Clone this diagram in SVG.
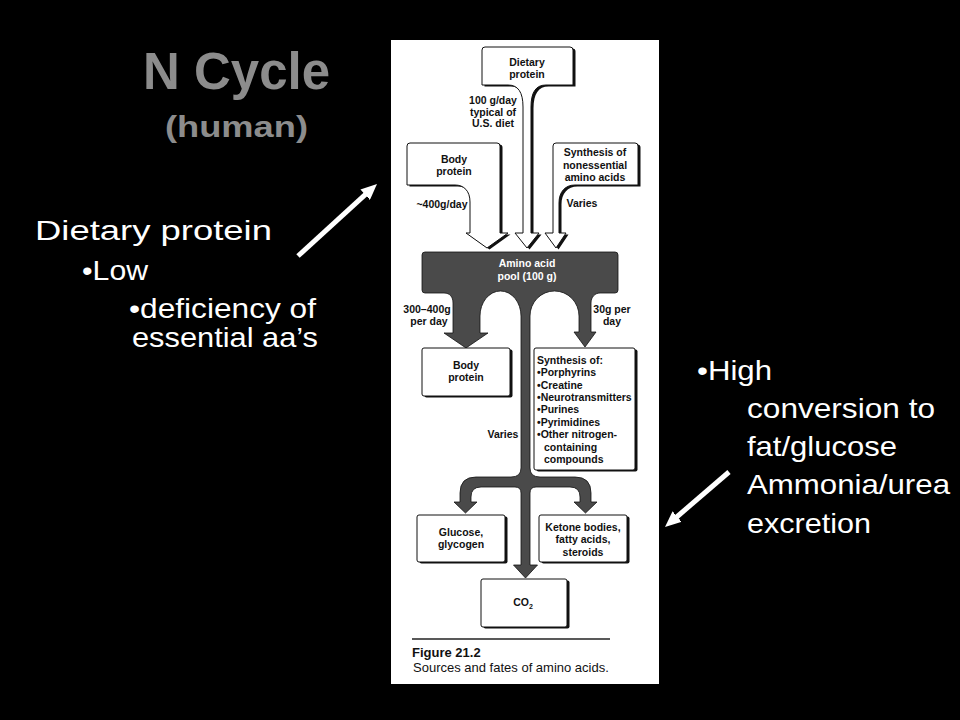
<svg xmlns="http://www.w3.org/2000/svg" width="960" height="720" viewBox="0 0 960 720">
<defs>
<style>
.fig{font-family:"Liberation Sans",Arial,sans-serif;font-weight:bold;font-size:10.5px;fill:#111;text-anchor:middle}
.figl{text-anchor:start}
.wt{fill:#fff}
.slide{font-family:"Liberation Sans",Arial,sans-serif;font-size:28px;fill:#fff}
.title{font-family:"Liberation Sans",Arial,sans-serif;font-weight:bold;fill:#8c8c8c}
.box{fill:#fff;stroke:#111;stroke-width:1}
.shadow{fill:#111}
.pool{fill:#4a4a4a;stroke:#111;stroke-width:0.8}
.warrow{stroke:#fff;stroke-width:5;fill:none;marker-end:url(#wh)}
</style>
<marker id="wh" markerUnits="userSpaceOnUse" markerWidth="16" markerHeight="14" refX="6" refY="7" orient="auto">
<path d="M0,0 L16,7 L0,14 z" fill="#fff"/>
</marker>
</defs>
<rect width="960" height="720" fill="#000"/>

<g id="title">
<text class="title" x="143" y="89" font-size="51" textLength="187" lengthAdjust="spacingAndGlyphs">N Cycle</text>
<text class="title" x="165" y="137" font-size="30" textLength="143" lengthAdjust="spacingAndGlyphs">(human)</text>
</g>

<g id="left-notes">
<text class="slide" x="35" y="240" font-size="30" textLength="237" lengthAdjust="spacingAndGlyphs">Dietary protein</text>
<text class="slide" x="82" y="280" textLength="66" lengthAdjust="spacingAndGlyphs">•Low</text>
<text class="slide" x="129" y="318" textLength="187" lengthAdjust="spacingAndGlyphs">•deficiency of</text>
<text class="slide" x="132" y="347" textLength="186" lengthAdjust="spacingAndGlyphs">essential aa’s</text>
</g>

<g id="right-notes">
<text class="slide" x="697" y="380" textLength="75" lengthAdjust="spacingAndGlyphs">•High</text>
<text class="slide" x="747" y="418" textLength="188" lengthAdjust="spacingAndGlyphs">conversion to</text>
<text class="slide" x="747" y="456" textLength="150" lengthAdjust="spacingAndGlyphs">fat/glucose</text>
<text class="slide" x="747" y="494" textLength="203" lengthAdjust="spacingAndGlyphs">Ammonia/urea</text>
<text class="slide" x="747" y="533" textLength="124" lengthAdjust="spacingAndGlyphs">excretion</text>
</g>

<g id="figure-panel">
<rect x="391" y="40" width="268" height="644" fill="#fff"/>
</g>

<g id="dietary-protein">
<path class="shadow" transform="translate(2.5,1.5)" d="M485,47 H570 Q573,47 573,50 V85 H546 C536,85 531,92 531,107 V233 H539 L527,248 L515,233 H523 V107 C523,92 518,85 508,85 H482 V50 Q482,47 485,47 Z"/>
<path class="box" d="M485,47 H570 Q573,47 573,50 V85 H546 C536,85 531,92 531,107 V233 H539 L527,248 L515,233 H523 V107 C523,92 518,85 508,85 H482 V50 Q482,47 485,47 Z"/>
<text class="fig" x="527" y="66">Dietary</text>
<text class="fig" x="527" y="78">protein</text>
<text class="fig" x="493" y="104">100 g/day</text>
<text class="fig" x="493" y="115.5">typical of</text>
<text class="fig" x="493" y="127">U.S. diet</text>
</g>

<g id="body-protein-source">
<path class="shadow" transform="translate(2.5,1.5)" d="M410,143 H497 Q500,143 500,146 V233 H508 L487,248 L466,233 H470 V202 C470,191 464,185 455,185 H407 V146 Q407,143 410,143 Z"/>
<path class="box" d="M410,143 H497 Q500,143 500,146 V233 H508 L487,248 L466,233 H470 V202 C470,191 464,185 455,185 H407 V146 Q407,143 410,143 Z"/>
<text class="fig" x="454" y="163">Body</text>
<text class="fig" x="454" y="175">protein</text>
<text class="fig" x="442" y="208">~400g/day</text>
</g>

<g id="synthesis-nonessential">
<path class="shadow" transform="translate(2.5,1.5)" d="M556,143 H635 Q638,143 638,146 V185 H575 C565,185 559,192 559,203 V233 H566 L556,248 L545,233 H553 V146 Q553,143 556,143 Z"/>
<path class="box" d="M556,143 H635 Q638,143 638,146 V185 H575 C565,185 559,192 559,203 V233 H566 L556,248 L545,233 H553 V146 Q553,143 556,143 Z"/>
<text class="fig" x="595" y="156">Synthesis of</text>
<text class="fig" x="595" y="168.5">nonessential</text>
<text class="fig" x="595" y="181">amino acids</text>
<text class="fig" x="582" y="207">Varies</text>
</g>

<g id="amino-acid-pool">
<path class="pool" d="M425,252 H615 Q618,252 618,255 V290 Q618,293 615,293 H600 C595,293 591,297 591,303 V332 H596 L585,347 L574,332 H579 V316 A24.5,25 0 0 0 530,316 V468 Q530,477 540,477 H575 Q591,477 591,493 V502 H597 L585.5,513 L574,502 H580 V497 Q580,487 570,487 H536 Q530,487 530,493 V565 H537.5 L525.5,578 L513.5,565 H521 V493 Q521,487 515,487 H481 Q471,487 471,497 V502 H477 L465.5,513 L454,502 H460 V493 Q460,477 476,477 H511 Q521,477 521,468 V316 A20.5,25 0 0 0 480,316 V333 H488 L466,348 L444,333 H453 V303 C453,297 450,293 444,293 H425 Q422,293 422,290 V255 Q422,252 425,252 Z"/>
<text class="fig wt" x="527" y="267">Amino acid</text>
<text class="fig wt" x="527" y="280">pool (100 g)</text>
<text class="fig" x="427" y="313">300–400g</text>
<text class="fig" x="429" y="325">per day</text>
<text class="fig" x="612" y="313">30g per</text>
<text class="fig" x="612" y="325">day</text>
<text class="fig" x="503" y="438">Varies</text>
</g>

<g id="body-protein-fate">
<rect class="shadow" x="424.5" y="349.5" width="88" height="48" rx="2"/>
<rect class="box" x="422" y="348" width="88" height="48" rx="2"/>
<text class="fig" x="466" y="369">Body</text>
<text class="fig" x="466" y="381">protein</text>
</g>

<g id="synthesis-of">
<rect class="shadow" x="536.5" y="349.5" width="101" height="122" rx="2"/>
<rect class="box" x="534" y="348" width="101" height="122" rx="2"/>
<text class="fig figl" x="537" y="364">Synthesis of:</text>
<text class="fig figl" x="537" y="376.3">•Porphyrins</text>
<text class="fig figl" x="537" y="388.7">•Creatine</text>
<text class="fig figl" x="537" y="401">•Neurotransmitters</text>
<text class="fig figl" x="537" y="413.4">•Purines</text>
<text class="fig figl" x="537" y="425.8">•Pyrimidines</text>
<text class="fig figl" x="537" y="438.1">•Other nitrogen-</text>
<text class="fig figl" x="544" y="450.5">containing</text>
<text class="fig figl" x="544" y="462.8">compounds</text>
</g>

<g id="glucose">
<rect class="shadow" x="419.5" y="516.5" width="88" height="47" rx="2"/>
<rect class="box" x="417" y="515" width="88" height="47" rx="2"/>
<text class="fig" x="461" y="535.5">Glucose,</text>
<text class="fig" x="461" y="547.5">glycogen</text>
</g>

<g id="ketone">
<rect class="shadow" x="541.5" y="516.5" width="88" height="47" rx="2"/>
<rect class="box" x="539" y="515" width="88" height="47" rx="2"/>
<text class="fig" x="583" y="530.5">Ketone bodies,</text>
<text class="fig" x="583" y="543">fatty acids,</text>
<text class="fig" x="583" y="555.5">steroids</text>
</g>

<g id="co2">
<rect class="shadow" x="483.5" y="580.5" width="86" height="48" rx="2"/>
<rect class="box" x="481" y="579" width="86" height="48" rx="2"/>
<text class="fig" x="523" y="606">CO<tspan font-size="7" dy="2.5">2</tspan></text>
</g>

<g id="caption">
<line x1="412" y1="639" x2="610" y2="639" stroke="#222" stroke-width="1.5"/>
<text x="412" y="657" font-family="'Liberation Sans',Arial,sans-serif" font-weight="bold" font-size="13" fill="#111">Figure 21.2</text>
<text x="413" y="672" font-family="'Liberation Sans',Arial,sans-serif" font-size="13" fill="#111">Sources and fates of amino acids.</text>
</g>

<g id="connectors">
<line class="warrow" x1="298" y1="256" x2="369.6" y2="190.7"/>
<line class="warrow" x1="729" y1="472" x2="672.6" y2="520.5"/>
</g>
</svg>
